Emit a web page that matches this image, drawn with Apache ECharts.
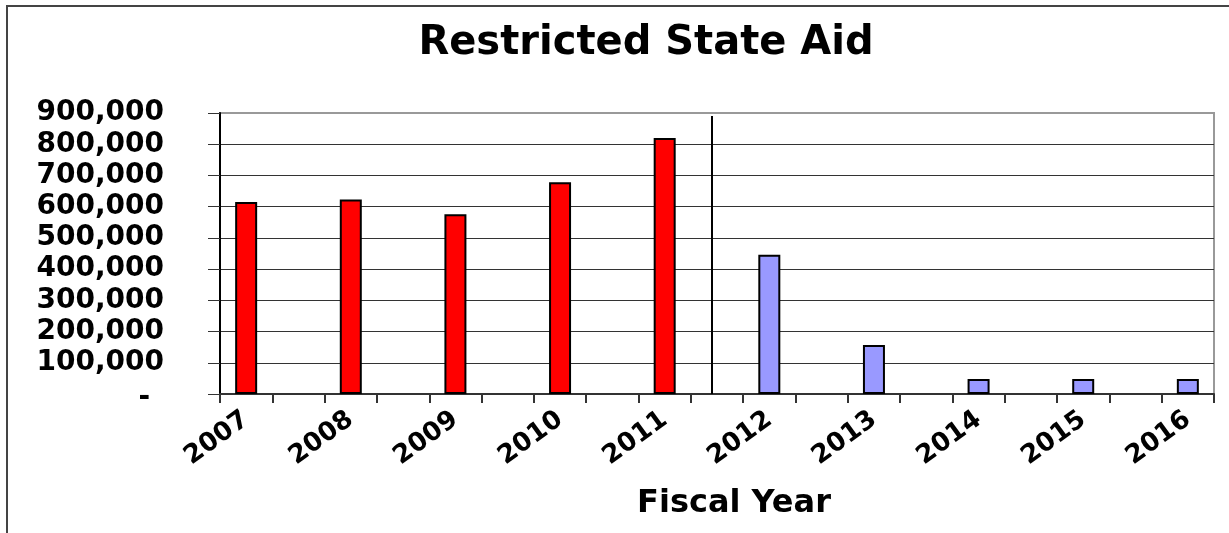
<!DOCTYPE html>
<html>
<head>
<meta charset="utf-8">
<script src="https://cdn.jsdelivr.net/npm/echarts@6/dist/echarts.min.js"></script>
<style>
  html, body { margin: 0; padding: 0; background: #fff; }
  #chart { width: 1229px; height: 533px; }
  #frame { position: absolute; left: 6px; top: 5px; right: 0; bottom: 0;
           border-left: 2px solid #444; border-top: 2px solid #444; pointer-events: none; }
</style>
</head>
<body>
<div id="chart"></div>
<div id="frame"></div>
<script>
// fiscal years, actual (red) then projected (blue)
const years = ['2007', '2008', '2009', '2010', '2011', '2012', '2013', '2014', '2015', '2016']
const actual = [615000, 623000, 576000, 678000, 820000]
const projected = [446000, 157000, 48000, 48000, 48000]
// position of the divider between actual and projected, in slot units
const splitAt = 9.4
const splitTop = 890000

// each year sits in every other slot, blank slots in between
const slots = []
const redData = []
const blueData = []
years.forEach((y, i) => {
  if (i > 0) {
    slots.push('')
    redData.push(null)
    blueData.push(null)
  }
  slots.push(y)
  redData.push(i < actual.length ? actual[i] : null)
  blueData.push(i >= actual.length ? projected[i - actual.length] : null)
})

const font = 'DejaVu Sans'
const chart = echarts.init(document.getElementById('chart'))
chart.setOption({
  animation: false,
  title: {
    text: 'Restricted State Aid',
    left: 641,
    textAlign: 'center',
    top: 19,
    textStyle: { fontFamily: font, fontWeight: 'bold', fontSize: 40, color: '#000' }
  },
  grid: { left: 220, right: 15, top: 113, bottom: 139, show: true, borderColor: '#999', borderWidth: 2 },
  xAxis: [{
    type: 'category',
    data: slots,
    boundaryGap: true,
    axisLine: { lineStyle: { color: '#333', width: 2 } },
    axisTick: { show: true, interval: 0, length: 9, lineStyle: { color: '#333', width: 2 } },
    axisLabel: {
      interval: 0, rotate: 36, margin: 23,
      fontFamily: font, fontWeight: 'bold', fontSize: 26, color: '#000'
    },
    name: 'Fiscal Year',
    nameLocation: 'middle',
    nameGap: 94,
    nameTextStyle: { fontFamily: font, fontWeight: 'bold', fontSize: 32, color: '#000', padding: [0, 0, 0, 34] }
  }, {
    type: 'value',
    min: 0,
    max: slots.length,
    show: false
  }],
  yAxis: {
    type: 'value',
    min: 0,
    max: 900000,
    interval: 100000,
    axisLine: { show: true, lineStyle: { color: '#000', width: 2 } },
    axisTick: { show: true, length: 12, lineStyle: { color: '#333' } },
    splitLine: { showMaxLine: false, lineStyle: { color: '#333', width: 1 } },
    axisLabel: {
      margin: 56,
      fontFamily: font, fontWeight: 'bold', fontSize: 28, color: '#000',
      formatter: v => v === 0 ? '{z|-}' : v.toLocaleString('en-US'),
      rich: { z: { fontFamily: font, fontWeight: 'bold', fontSize: 28, color: '#000', padding: [8, 14, 0, 0] } }
    }
  },
  series: [{
    type: 'bar',
    data: redData,
    barWidth: 22,
    barGap: '-100%',
    itemStyle: { color: '#ff0000', borderColor: '#000', borderWidth: 2 }
  }, {
    type: 'bar',
    data: blueData,
    barWidth: 22,
    barGap: '-100%',
    itemStyle: { color: '#9999ff', borderColor: '#000', borderWidth: 2 }
  }, {
    type: 'line',
    xAxisIndex: 1,
    data: [],
    markLine: {
      silent: true,
      symbol: 'none',
      label: { show: false },
      lineStyle: { color: '#000', width: 2, type: 'solid' },
      data: [[{ coord: [splitAt, splitTop] }, { coord: [splitAt, 0] }]]
    }
  }]
})
</script>
</body>
</html>
